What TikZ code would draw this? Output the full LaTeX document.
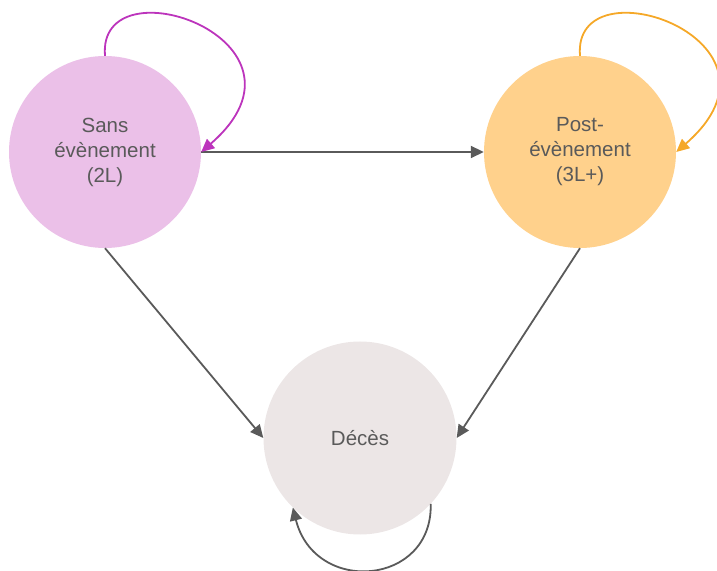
\documentclass[tikz,border=0pt]{standalone}
\usepackage{fontspec}
\setmainfont{Liberation Sans}
\usetikzlibrary{arrows.meta}

\definecolor{statetext}{RGB}{90,90,90}
\definecolor{sansfill}{RGB}{235,192,232}
\definecolor{sansloop}{RGB}{188,52,188}
\definecolor{postfill}{RGB}{255,209,140}
\definecolor{postloop}{RGB}{245,168,40}
\definecolor{decesfill}{RGB}{236,230,230}

\begin{document}
\begin{tikzpicture}[x=1pt,y=1pt,
  state/.style={circle,minimum size=192pt,inner sep=0pt,align=center,
    text=statetext,font=\fontsize{20.5}{25}\selectfont},
  trans/.style={line width=1.8pt,-{Triangle[length=13pt,width=12pt]}}]
  \useasboundingbox (0,0) rectangle (717,570);
  \clip (0,0) rectangle (717,570);
  % states
  \node[state,fill=sansfill] (sans) at (105,418) {Sans\\évènement\\(2L)};
  \node[state,fill=postfill] (post) at (580,418) {Post-\\évènement\\(3L+)};
  \node[state,fill=decesfill,minimum size=193pt] (deces) at (360,132) {Décès};

  % transitions
  \draw[trans,statetext] (sans.east) -- (post.west);
  \draw[trans,statetext] (sans.south) -- (deces.west);
  \draw[trans,statetext] (post.south) -- (deces.east);

  % self loops
  \draw[trans,sansloop] (sans.north) .. controls +(-8,96) and +(129,112) .. (sans.east);
  \draw[trans,postloop] (post.north) .. controls +(-8,96) and +(129,112) .. (post.east);
  \draw[trans,statetext] (deces.-43) .. controls +(2,-82) and +(22,-88) .. (deces.-134);
\end{tikzpicture}
\end{document}
